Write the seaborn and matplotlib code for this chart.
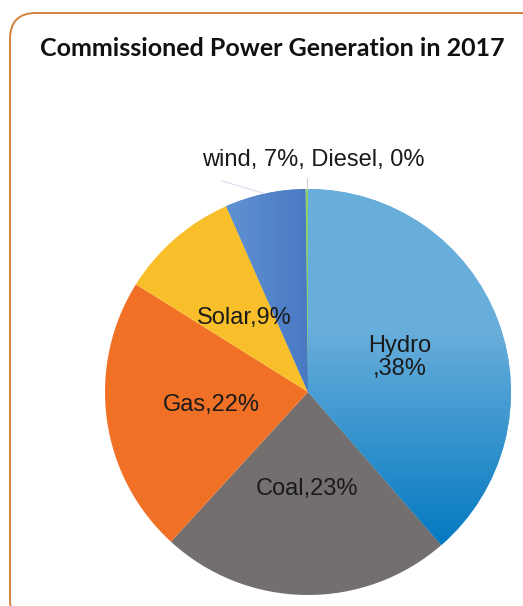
import numpy as np
import matplotlib
matplotlib.use('Agg')
import matplotlib.pyplot as plt
import seaborn as sns
from matplotlib.patches import FancyBboxPatch
from matplotlib.colors import LinearSegmentedColormap

sns.set_theme(style='white')
plt.rcParams['font.family'] = ['Liberation Sans', 'DejaVu Sans']

# Data
SOURCES = ['Hydro', 'Coal', 'Gas', 'Solar', 'wind', 'Diesel']
SHARES = [38.6, 23.2, 22.1, 9.5, 6.4, 0.2]
LABELS = ['Hydro\n,38%', 'Coal,23%', 'Gas,22%', 'Solar,9%', 'wind, 7%', 'Diesel, 0%']
COLORS = ['#68aedb', '#736f6e', '#f07026', '#f9bf2a', '#5a8dcf', '#8fcf6a']


def gradient_fill(ax, wedge, c0, c1, vertical=True, start=0.0):
    """Paint a linear gradient clipped to a wedge (c0 at top/left, c1 at bottom/right)."""
    x0, y0, x1, y1 = wedge.get_window_extent().transformed(ax.transData.inverted()).extents
    cmap = LinearSegmentedColormap.from_list('g', [(0, c0), (start, c0), (1, c1)])
    ramp = np.linspace(0, 1, 256)
    img = ramp[:, None] if vertical else ramp[None, :]
    im = ax.imshow(img, cmap=cmap, extent=(x0, x1, y0, y1), aspect='auto',
                   interpolation='bilinear', zorder=wedge.get_zorder() + 0.1)
    im.set_clip_path(wedge)


W, H = 523, 606
fig = plt.figure(figsize=(W / 100, H / 100), dpi=100)
ax = fig.add_axes([0, 0, 1, 1])

# Rounded panel border
border = FancyBboxPatch((10, -20), 540, 613, boxstyle='round,pad=0,rounding_size=26',
                        facecolor='white', edgecolor='#d2823c', linewidth=1.4)
ax.add_patch(border)

cx, cy, R = 308, H - 392, 203
wedges, _ = ax.pie(SHARES, colors=COLORS, startangle=90, counterclock=False,
                   center=(cx, cy), radius=R, frame=True,
                   wedgeprops=dict(linewidth=0))
ax.set_xlim(0, W)
ax.set_ylim(0, H)
ax.set_aspect('equal')
ax.axis('off')
fig.canvas.draw()

gradient_fill(ax, wedges[0], '#68aedb', '#0479c0', vertical=True, start=0.4)
gradient_fill(ax, wedges[4], '#5f92d2', '#4979c2', vertical=False)
ax.set_xlim(0, W)
ax.set_ylim(0, H)

# In-slice labels
for w, lab in zip(wedges[:4], LABELS[:4]):
    ang = np.deg2rad((w.theta1 + w.theta2) / 2)
    x = cx + 0.48 * R * np.cos(ang)
    y = cy + 0.48 * R * np.sin(ang)
    ax.text(x, y, lab, ha='center', va='center', fontsize=17, color='#1a1a1a',
            linespacing=1.05, zorder=5)

# Outside label for the two small slices, with leader lines
ax.text(313, H - 160, f'{LABELS[4]}, {LABELS[5]}', ha='center', va='center',
        fontsize=17, color='#1a1a1a', zorder=5)
ang_w = np.deg2rad((wedges[4].theta1 + wedges[4].theta2) / 2)
ax.plot([222, cx + R * np.cos(ang_w)], [H - 181, cy + R * np.sin(ang_w)],
        color='#d4deea', linewidth=0.8)
ang_d = np.deg2rad((wedges[5].theta1 + wedges[5].theta2) / 2)
ax.plot([cx + R * np.cos(ang_d)] * 2, [H - 178, cy + R * np.sin(ang_d)],
        color='#cfcfcf', linewidth=0.8)

ax.text(272, H - 48, 'Commissioned Power Generation in 2017', ha='center', va='center',
        fontsize=18, fontweight='bold', color='#111111', family=['Lato', 'DejaVu Sans'])

fig.savefig('out.png', dpi=100)
